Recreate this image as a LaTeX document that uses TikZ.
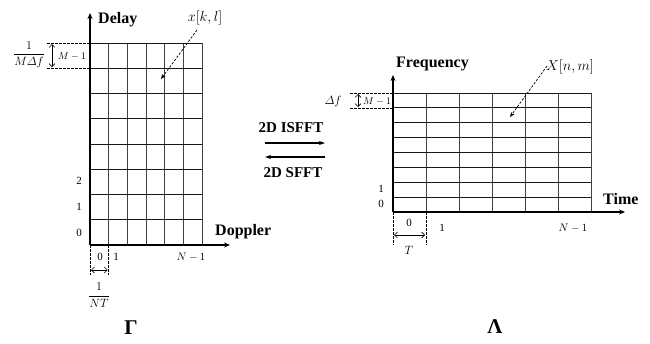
\documentclass[tikz,border=0pt]{standalone}
\usepackage{amsmath,amssymb}
\usepackage{fontspec}
\setmainfont{Liberation Serif}
\usetikzlibrary{arrows.meta}
\begin{document}
\begin{tikzpicture}[x=1pt,y=-1pt,
  gridv/.style={draw=black!75,line width=1pt},
  gridh/.style={draw=black!90,line width=1pt},
  axis/.style={line width=1.5pt,-{Stealth[length=6pt,width=5pt]}},
  axislbl/.style={font=\bfseries\fontsize{16}{16}\selectfont,inner sep=0pt},
  small/.style={font=\fontsize{11}{11}\selectfont,inner sep=0pt},
  tiny/.style={font=\fontsize{10}{10}\selectfont,inner sep=0pt},
  guide/.style={dashed,line width=0.6pt,dash pattern=on 2.5pt off 1.5pt},
  dbl/.style={line width=0.6pt,{Straight Barb[length=3pt]}-{Straight Barb[length=3pt]}},
  ptr/.style={dashed,line width=0.7pt,dash pattern=on 2.5pt off 1.5pt,-{Stealth[length=5pt,width=4pt]}},
  trarrow/.style={line width=1.2pt,-{Stealth[length=6pt,width=4pt]}},
  bigsym/.style={font=\bfseries\fontsize{21}{21}\selectfont,inner sep=0pt}]
\useasboundingbox (0,0) rectangle (650,343);
% ---------- left grid ----------
\foreach \i in {1,...,6} \draw[gridv] ({90+18.67*\i},43) -- ({90+18.67*\i},245);
\foreach \j in {0,...,7} \draw[gridh] (90,{43+25.25*\j}) -- (202,{43+25.25*\j});
\coordinate (LO) at (90,245);
\coordinate (LY) at (90,13);
\coordinate (LX) at (230,245);
\draw[axis] (LO) -- (LY);
\draw[axis] (LO) -- (LX);
\node[axislbl,anchor=west] (delay) at (98,20) {Delay};
\node[axislbl,anchor=west] (doppler) at (215,232) {Doppler};
\node[font=\fontsize{14}{14}\selectfont,inner sep=0pt] (xkl) at (205,18) {$x[k,l]$};
\coordinate (xklend) at (161,79);
\draw[ptr] (197,30) -- (xklend);
% delay resolution
\node[font=\fontsize{12}{12}\selectfont,inner sep=0pt] (mdf) at (29,55) {$\dfrac{1}{M\varDelta f}$};
\coordinate (dl1) at (47,43); \coordinate (dl2) at (47,68);
\coordinate (dl1e) at (90,43); \coordinate (dl2e) at (90,68);
\draw[guide] (dl1) -- (dl1e);
\draw[guide] (dl2) -- (dl2e);
\coordinate (da1) at (52,44); \coordinate (da2) at (52,67);
\draw[dbl] (da1) -- (da2);
\node[tiny,anchor=west] (mm1) at (58,56) {$M-1$};
\node[small] (l0) at (79,233) {0};
\node[small] (l1) at (79,207) {1};
\node[small] (l2) at (79,181) {2};
% doppler resolution
\coordinate (dv1) at (90,275); \coordinate (dv2) at (108.7,275); \coordinate (dv2t) at (108.7,245);
\draw[guide] (LO) -- (dv1);
\draw[guide] (dv2t) -- (dv2);
\coordinate (ha1) at (91,270); \coordinate (ha2) at (107.7,270);
\draw[dbl] (ha1) -- (ha2);
\node[small] (b0) at (100,257) {0};
\node[small] (b1) at (116,257) {1};
\node[small] (bn) at (191,257) {$N-1$};
\node[font=\fontsize{13}{13}\selectfont,inner sep=0pt] (nt) at (99,295) {$\dfrac{1}{NT}$};
\node[bigsym] (gam) at (131,328) {Γ};
% ---------- middle ----------
\node[axislbl,font=\bfseries\fontsize{15}{15}\selectfont] (isfft) at (291,128) {2D ISFFT};
\node[axislbl,font=\bfseries\fontsize{15}{15}\selectfont] (sfft) at (293,173) {2D SFFT};
\coordinate (m1a) at (265,143); \coordinate (m1b) at (325,143);
\coordinate (m2a) at (325,157); \coordinate (m2b) at (265,157);
\draw[trarrow] (m1a) -- (m1b);
\draw[trarrow] (m2a) -- (m2b);
% ---------- right grid ----------
\foreach \i in {1,...,6} \draw[gridv] ({393+33*\i},93) -- ({393+33*\i},212);
\foreach \j in {0,...,7} \draw[gridh] (393,{93+14.875*\j}) -- (591,{93+14.875*\j});
\coordinate (RO) at (393,212);
\coordinate (RY) at (393,75);
\coordinate (RX) at (625,212);
\draw[axis] (RO) -- (RY);
\draw[axis] (RO) -- (RX);
\node[axislbl,anchor=west] (freq) at (396,64) {Frequency};
\node[axislbl,anchor=west] (time) at (603,199) {Time};
\node[font=\fontsize{14}{14}\selectfont,inner sep=0pt] (Xnm) at (570,67) {$X[n,m]$};
\coordinate (Xend) at (510,117);
\draw[ptr] (547,66) -- (Xend);
\node[font=\fontsize{12}{12}\selectfont,inner sep=0pt] (df) at (333,101) {$\varDelta f$};
\coordinate (rl1) at (350,93); \coordinate (rl2) at (350,108);
\coordinate (rl1e) at (393,93); \coordinate (rl2e) at (393,108);
\draw[guide] (rl1) -- (rl1e);
\draw[guide] (rl2) -- (rl2e);
\coordinate (ra1) at (358,94); \coordinate (ra2) at (358,107);
\draw[dbl] (ra1) -- (ra2);
\node[tiny,anchor=west] (rmm1) at (363,101) {$M-1$};
\node[small] (r0) at (381,204) {0};
\node[small] (r1) at (381,189) {1};
\coordinate (rv1) at (393,245); \coordinate (rv2) at (426,245); \coordinate (rv2t) at (426,212);
\draw[guide] (RO) -- (rv1);
\draw[guide] (rv2t) -- (rv2);
\coordinate (rh1) at (394,235); \coordinate (rh2) at (425,235);
\draw[dbl] (rh1) -- (rh2);
\node[small] (rb0) at (409,223) {0};
\node[small] (rb1) at (442,228) {1};
\node[small] (rbn) at (573,228) {$N-1$};
\node[font=\fontsize{13}{13}\selectfont,inner sep=0pt] (tt) at (409,250) {$T$};
\node[bigsym] (lam) at (495,327) {Λ};
\end{tikzpicture}
\end{document}
